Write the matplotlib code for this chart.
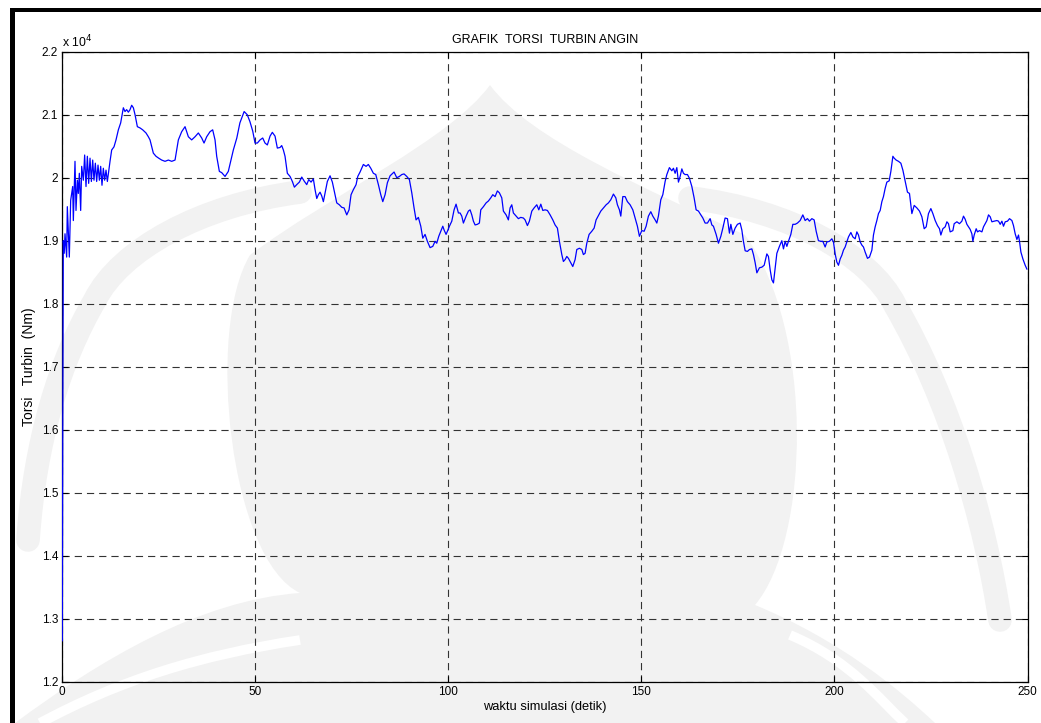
import numpy as np
import matplotlib
matplotlib.use("Agg")
import matplotlib.pyplot as plt
from matplotlib.ticker import FuncFormatter
from matplotlib.patches import Rectangle, PathPatch
from matplotlib.path import Path

plt.rcParams["font.family"] = ["Liberation Sans", "DejaVu Sans"]

# Simulated wind-turbine torque (in units of 10^4 Nm) against simulation time (s)
waktu = [
    0.00, 0.12, 0.26, 0.50, 0.70, 1.13, 1.30, 1.82, 2.17, 2.69, 2.86, 3.29, 3.55, 3.90, 4.15, 4.41,
    4.76, 5.02, 5.45, 5.79, 6.14, 6.49, 6.83, 7.18, 7.53, 7.87, 8.21, 8.56, 8.90, 9.25, 9.60, 9.94,
    10.28, 10.63, 10.97, 11.32, 11.67, 12.01, 12.36, 12.79, 13.39, 13.91, 14.52, 15.12, 15.81, 16.24,
    16.67, 17.11, 17.54, 17.97, 18.41, 18.84, 19.44, 20.13, 20.82, 21.68, 22.29, 22.72, 23.58, 24.27,
    24.97, 25.74, 26.61, 27.47, 28.34, 29.20, 30.06, 30.92, 31.79, 32.65, 33.51, 34.38, 35.24, 36.11,
    36.71, 37.40, 38.26, 38.95, 39.56, 39.99, 40.68, 41.29, 42.15, 43.00, 43.60, 44.30, 45.20, 46.00,
    47.10, 47.90, 48.60,
    49.32, 49.92, 50.52, 51.22, 51.91, 52.51, 53.11, 53.81, 54.40, 55.10, 55.70, 56.40, 56.83, 57.26,
    57.69, 58.29, 58.99, 59.59, 60.11, 60.72, 61.40, 62.02, 62.62, 63.31, 63.83, 64.43, 65.03, 65.47,
    65.91, 66.32, 66.76, 67.20, 67.62, 68.06, 68.65, 69.35, 69.95, 70.65, 71.09, 71.76, 72.38, 72.98,
    73.68, 74.27, 74.79, 75.39, 76.09, 76.53, 77.12, 77.98, 78.68, 79.27, 79.90, 80.57, 81.19, 81.87,
    82.49, 83.01, 83.60, 84.20, 84.90, 85.93, 86.63, 87.31, 87.93, 88.52, 89.22, 89.90, 90.52, 91.11,
    91.63, 92.23, 92.85, 93.37, 93.96, 94.56, 95.26, 95.96, 96.55, 96.99, 97.51, 98.03, 98.55, 98.89,
    99.40, 99.75, 100.27, 100.88, 101.48, 101.99, 102.60, 103.03, 103.47, 103.89, 104.59, 105.18,
    105.62, 106.06, 106.48, 106.92, 107.51, 108.03, 108.39, 109.07, 109.77, 110.36, 110.98, 111.50,
    112.10, 112.69, 113.21, 113.83, 114.25, 114.95, 115.54, 115.98, 116.42, 116.84, 117.54, 118.13,
    118.75, 119.43, 119.87, 120.47, 120.98, 121.61, 122.20, 122.90, 123.42, 123.94, 124.46, 125.05,
    125.65, 126.35, 127.05, 127.64, 128.24, 128.76, 129.38, 129.79, 130.23, 130.67, 131.09, 131.53,
    132.22, 132.82, 133.26, 133.94, 134.56, 134.97, 135.41, 135.85, 136.45, 137.15, 137.75, 138.26,
    138.86, 139.48, 140.16, 140.86, 141.45, 142.07, 142.75, 143.37, 143.78, 144.30, 144.66, 145.18,
    145.78, 146.37, 147.07, 147.77, 148.37,
    148.96, 149.48, 150.10, 150.70, 151.22, 151.81, 152.43, 152.95, 153.55, 153.99, 154.40, 155.02,
    155.54, 156.14, 156.58, 157.25, 157.87, 158.29, 158.73, 159.17, 159.59, 160.03, 160.47, 160.88,
    161.32, 161.92, 162.44, 163.06, 163.65, 164.17, 164.77, 165.39, 165.91, 166.50, 167.10, 167.80,
    168.24, 168.65, 169.35, 169.95, 170.57, 171.09, 171.68, 172.28, 172.80, 173.16, 173.68, 174.27,
    174.87, 175.57, 176.01, 176.42, 176.87, 177.46, 177.98, 178.60, 179.02, 179.46, 179.90, 180.57,
    181.19, 181.79, 182.49, 182.90, 183.34, 183.78, 184.20, 184.64, 185.08, 185.75, 186.37, 186.79,
    187.23, 187.67, 188.08, 188.70, 189.22, 189.82, 190.41, 191.11, 191.81, 192.41, 193.01, 193.52,
    194.15, 194.74, 195.26, 195.85, 196.48, 196.99,
    197.59, 198.03, 198.70, 199.32, 199.74, 200.18, 200.62, 201.04, 201.48, 201.92, 202.33, 202.77,
    203.21, 203.63, 204.25, 204.77, 205.36, 205.80, 206.22, 206.66, 207.10, 207.51, 207.95, 208.55,
    209.07, 209.69, 210.10, 210.54, 210.98, 211.40, 211.84, 212.28, 212.69, 213.13, 213.57, 214.17,
    214.61, 215.13, 215.47, 215.98, 216.58, 217.20, 217.72, 218.32, 218.91, 219.43, 220.05, 220.65,
    221.35, 222.02, 222.64, 223.24, 223.76, 224.35, 224.97, 225.49, 226.09, 226.68, 227.20, 227.56,
    228.08, 228.68, 229.12, 229.53, 229.97, 230.67, 231.01, 231.71, 232.38, 233.00, 233.42, 233.86,
    234.30, 234.71, 235.15, 235.59, 235.85, 236.19, 236.71, 237.05, 237.56, 238.19, 238.60, 239.04,
    239.48, 239.90, 240.34, 240.78, 241.37, 242.07, 242.49, 242.93, 243.37, 243.78, 244.22, 244.82,
    245.34, 245.96, 246.37, 246.81, 247.25, 247.67, 247.93, 248.29, 248.81, 249.40, 249.84,
]

torsi_e4 = [
    1.265, 1.600, 1.900, 1.880, 1.911, 1.874, 1.954, 1.874, 1.964, 1.986, 1.932, 2.026, 1.948, 1.996, 1.975, 2.007,
    1.948, 2.018, 1.996, 2.036, 1.986, 2.034, 1.991, 2.031, 1.994, 2.028, 1.996, 2.023, 1.994, 2.020, 1.996, 2.018,
    1.988, 2.015, 1.996, 2.012, 1.994, 2.010, 2.026, 2.044, 2.049, 2.060, 2.076, 2.087, 2.111, 2.105,
    2.108, 2.104, 2.108, 2.115, 2.111, 2.100, 2.081, 2.079, 2.076, 2.071, 2.065, 2.060, 2.039, 2.034,
    2.031, 2.028, 2.026, 2.028, 2.026, 2.028, 2.060, 2.073, 2.081, 2.065, 2.060, 2.065, 2.071, 2.063,
    2.055, 2.065, 2.073, 2.076, 2.060, 2.034, 2.010, 2.008, 2.002, 2.010, 2.026, 2.044, 2.063, 2.087,
    2.105, 2.100, 2.089,
    2.074, 2.055, 2.055, 2.060, 2.063, 2.055, 2.052, 2.066, 2.072, 2.066, 2.047, 2.048, 2.051, 2.044,
    2.034, 2.007, 2.002, 1.994, 1.985, 1.989, 1.993, 2.001, 1.995, 1.989, 1.997, 1.993, 1.998, 1.981,
    1.967, 1.973, 1.977, 1.971, 1.962, 1.976, 1.994, 2.003, 1.993, 1.973, 1.960, 1.957, 1.953, 1.952,
    1.941, 1.949, 1.973, 1.981, 1.989, 2.002, 2.009, 2.021, 2.018, 2.021, 2.015, 2.007, 2.005, 1.989,
    1.973, 1.962, 1.973, 1.992, 2.003, 2.009, 2.000, 2.002, 2.005, 2.006, 2.002, 1.997, 1.976, 1.952,
    1.933, 1.937, 1.923, 1.904, 1.910, 1.899, 1.889, 1.891, 1.899, 1.896, 1.907, 1.915, 1.923, 1.917,
    1.910, 1.915, 1.923, 1.931, 1.949, 1.958, 1.944, 1.944, 1.939, 1.928, 1.939, 1.947,
    1.949, 1.941, 1.931, 1.925, 1.926, 1.928, 1.949, 1.954, 1.960, 1.963, 1.968, 1.973,
    1.970, 1.979, 1.976, 1.968, 1.947, 1.941, 1.933, 1.952, 1.957, 1.944, 1.939, 1.935,
    1.937, 1.936, 1.933, 1.924, 1.931, 1.947, 1.952, 1.957, 1.949, 1.958, 1.948, 1.949,
    1.948, 1.941, 1.933, 1.925, 1.920, 1.899, 1.878, 1.867, 1.870, 1.875, 1.872, 1.867,
    1.859, 1.870, 1.886, 1.888, 1.886, 1.878, 1.880, 1.896, 1.910, 1.915, 1.920, 1.933,
    1.940, 1.947, 1.952, 1.957, 1.960, 1.965, 1.974, 1.968, 1.957, 1.949, 1.939, 1.970,
    1.970, 1.962, 1.957, 1.949, 1.936,
    1.923, 1.907, 1.916, 1.915, 1.923, 1.939, 1.946, 1.939, 1.933, 1.928, 1.939, 1.965,
    1.973, 1.994, 2.005, 2.016, 2.011, 2.015, 2.007, 2.016, 1.993, 2.002, 2.014, 2.007,
    2.005, 2.005, 1.999, 1.986, 1.968, 1.949, 1.947, 1.941, 1.936, 1.928, 1.928, 1.935,
    1.925, 1.923, 1.910, 1.896, 1.907, 1.920, 1.936, 1.935, 1.912, 1.926, 1.910, 1.920,
    1.926, 1.928, 1.917, 1.899, 1.884, 1.883, 1.886, 1.887, 1.878, 1.865, 1.849, 1.857,
    1.858, 1.861, 1.879, 1.875, 1.854, 1.838, 1.833, 1.857, 1.880, 1.891, 1.900, 1.887,
    1.899, 1.891, 1.899, 1.910, 1.926, 1.926, 1.928, 1.932, 1.941, 1.932, 1.935, 1.931,
    1.935, 1.933, 1.915, 1.900, 1.899, 1.899,
    1.890, 1.898, 1.899, 1.903, 1.898, 1.879, 1.866, 1.861, 1.871, 1.877, 1.885, 1.890,
    1.898, 1.906, 1.913, 1.906, 1.903, 1.914, 1.909, 1.898, 1.893, 1.890, 1.882, 1.872,
    1.874, 1.885, 1.909, 1.922, 1.932, 1.943, 1.948, 1.962, 1.970, 1.983, 1.993, 1.995,
    2.010, 2.034, 2.031, 2.028, 2.026, 2.023, 2.012, 1.994, 1.977, 1.975, 1.943, 1.956,
    1.952, 1.947, 1.938, 1.919, 1.922, 1.943, 1.951, 1.943, 1.932, 1.924, 1.919, 1.909,
    1.919, 1.922, 1.930, 1.927, 1.914, 1.916, 1.927, 1.930, 1.927, 1.931, 1.939, 1.934,
    1.926, 1.922, 1.918, 1.911, 1.899, 1.909, 1.919, 1.914, 1.916, 1.914, 1.922, 1.927,
    1.932, 1.941, 1.938, 1.930, 1.931, 1.932, 1.931, 1.926, 1.931, 1.923, 1.930, 1.931,
    1.935, 1.932, 1.924, 1.911, 1.902, 1.909, 1.899, 1.882, 1.871, 1.861, 1.855,
]

x_ticks = [0, 50, 100, 150, 200, 250]
y_ticks = [1.2, 1.3, 1.4, 1.5, 1.6, 1.7, 1.8, 1.9, 2.0, 2.1, 2.2]

W, H = 1041, 723
fig = plt.figure(figsize=(W / 100, H / 100), dpi=100)
fig.patch.set_facecolor("white")

# faint emblem printed in the page background (page pixel coordinates, y downward)
bg = fig.add_axes([0, 0, 1, 1], zorder=-10)
bg.set_xlim(0, W)
bg.set_ylim(H, 0)
bg.axis("off")
WM = "#f2f2f2"
M, C, L, Z = Path.MOVETO, Path.CURVE4, Path.LINETO, Path.CLOSEPOLY

dome = Path(
    [(15, 723), (100, 660), (200, 600), (300, 593),
     (230, 560), (205, 330), (250, 255),
     (330, 195), (450, 140), (490, 85),
     (530, 140), (650, 190), (745, 235),
     (815, 330), (810, 540), (755, 605),
     (840, 640), (900, 690), (935, 723),
     (15, 723), (15, 723)],
    [M, C, C, C, C, C, C, C, C, C, C, C, C, C, C, C, C, C, C, L, Z])
bg.add_patch(PathPatch(dome, facecolor=WM, edgecolor="none"))

left_ear = Path([(300, 192), (200, 205), (120, 250), (95, 300),
                 (60, 360), (35, 440), (28, 540)], [M, C, C, C, C, C, C])
right_ear = Path([(690, 198), (790, 210), (870, 255), (895, 305),
                  (950, 400), (985, 520), (1000, 620)], [M, C, C, C, C, C, C])
for ear in (left_ear, right_ear):
    bg.add_patch(PathPatch(ear, facecolor="none", edgecolor=WM, lw=17, capstyle="round"))

left_tail = Path([(40, 723), (120, 680), (200, 655), (300, 640)], [M, C, C, C])
right_tail = Path([(790, 635), (850, 660), (880, 700), (905, 723)], [M, C, C, C])
for tail in (left_tail, right_tail):
    bg.add_patch(PathPatch(tail, facecolor="none", edgecolor="white", lw=7))

# black frame along the left and top edges of the page
fig.patches.append(Rectangle((10 / W, 0), 5 / W, 1 - 8 / H, transform=fig.transFigure,
                             facecolor="black", edgecolor="none", zorder=5))
fig.patches.append(Rectangle((10 / W, 1 - 12 / H), 1, 4 / H, transform=fig.transFigure,
                             facecolor="black", edgecolor="none", zorder=5))

ax_l, ax_r, ax_t, ax_b = 62.3, 1027.5, 51.7, 681.7
ax_w = ax_r - ax_l
ax = fig.add_axes([ax_l / W, 1 - ax_b / H, ax_w / W, (ax_b - ax_t) / H])
ax.patch.set_alpha(0)

t = np.array(waktu)
torsi_nm = np.array(torsi_e4) * 1e4
ax.plot(t, torsi_nm, color="#0000ff", lw=0.9, zorder=3)

ax.set_xlim(0, 250)
ax.set_ylim(1.2e4, 2.2e4)
ax.set_xticks(x_ticks)
ax.set_yticks([v * 1e4 for v in y_ticks])
ax.xaxis.set_major_formatter(FuncFormatter(lambda v, p: f"{v:g}"))
ax.yaxis.set_major_formatter(FuncFormatter(lambda v, p: f"{v / 1e4:g}"))
ax.tick_params(direction="in", length=4, width=0.8, labelsize=8.5, top=True, right=True,
               pad=3, colors="black")
ax.grid(True, color="#333333", lw=0.8, linestyle=(0, (6.5, 4.5)))
for s in ax.spines.values():
    s.set_linewidth(0.9)
    s.set_color("black")

ax.set_title("GRAFIK  TORSI  TURBIN ANGIN", fontsize=9, pad=6)
ax.set_xlabel("waktu simulasi (detik)", fontsize=9.3, labelpad=2)
ax.set_ylabel("Torsi   Turbin  (Nm)", fontsize=10)
ax.yaxis.set_label_coords((36 - ax_l) / ax_w, 0.5)
ax.text(0.0, 1.003, r"x 10$^{4}$", transform=ax.transAxes, fontsize=8.8, ha="left", va="bottom")

fig.savefig("out.png", dpi=100)
